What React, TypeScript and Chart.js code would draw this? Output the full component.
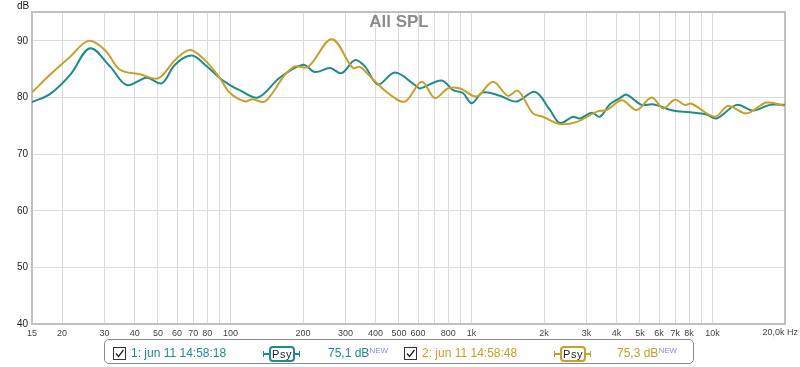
import React, { useEffect, useRef } from "react";
import { Chart, registerables } from "chart.js";

Chart.register(...registerables);

const freq1 = [15, 17.8, 21.6, 26.1, 31.6, 37.1, 44.9, 51.8, 58.8, 69, 78.3, 90.4, 99.5, 109, 130, 160, 200, 224, 259, 289, 328, 361, 409, 481, 583, 611, 752, 838, 921, 1002, 1115, 1312, 1539, 1833, 2116, 2328, 2636, 2819, 3161, 3411, 3754, 4131, 4403, 5082, 5661, 6853, 8061, 9458, 10403, 12597, 14760, 17310, 20000];
const spl1 = [79.2, 80.6, 84.0, 88.7, 85.5, 82.2, 83.5, 82.5, 85.8, 87.4, 85.8, 83.4, 82.2, 81.3, 80, 83.5, 85.8, 84.5, 85.2, 84.3, 86.6, 85.5, 82.3, 84.4, 82.2, 81.6, 83, 81.3, 80.8, 79, 80.9, 80.3, 79.3, 81, 77.8, 75.5, 76.6, 76.3, 77.3, 76.6, 78.8, 79.9, 80.5, 78.7, 78.8, 77.7, 77.4, 77, 76.3, 78.7, 77.7, 78.7, 78.7];

const freq2 = [15, 17.8, 21.6, 25.7, 30.1, 34.8, 42.1, 50.1, 58.8, 67.9, 78.3, 90.4, 99.5, 115, 123, 139, 168, 185, 210, 263, 322, 344, 386, 450, 529, 621, 705, 798, 896, 1050, 1227, 1416, 1559, 1799, 1979, 2328, 2739, 3315, 3648, 4209, 4843, 5590, 6247, 6984, 7684, 8193, 10234, 11590, 13857, 16770, 20000];
const spl2 = [80.9, 84, 87.2, 90, 88.4, 84.9, 84.1, 83.4, 86.6, 88.4, 86.6, 83.4, 80.8, 79.3, 79.7, 79.3, 84, 85.5, 85.4, 90.3, 85.2, 85.4, 83.4, 80.8, 79.3, 82.8, 79.9, 81.6, 81.6, 80.2, 82.8, 80.3, 81.2, 77.2, 76.6, 75.3, 75.7, 77.5, 77.8, 79.5, 77.8, 80, 78.1, 79.6, 78.7, 78.9, 76.6, 78.5, 77.2, 79.1, 78.5];

const xTickValues = [15, 20, 30, 40, 50, 60, 70, 80, 90, 100, 200, 300, 400, 500, 600, 700, 800, 900, 1000, 2000, 3000, 4000, 5000, 6000, 7000, 8000, 9000, 10000, 20000];
const xTickLabels = ["15", "20", "30", "40", "50", "60", "70", "80", "", "100", "200", "300", "400", "500", "600", "", "800", "", "1k", "2k", "3k", "4k", "5k", "6k", "7k", "8k", "", "10k", ""];
const lastXLabel = "20,0k Hz";
const yTickValues = [40, 50, 60, 70, 80, 90];

const TEAL = "#1e8c8c";
const GOLD = "#c8a028";
const FONT = "'Liberation Sans', Arial, sans-serif";

export default function App() {
  const ref = useRef<HTMLCanvasElement | null>(null);

  useEffect(() => {
    document.body.style.margin = "0";
    const canvas = ref.current;
    if (!canvas) return;

    const overlay = {
      id: "overlay",
      beforeDatasetsDraw(chart: any) {
        const { ctx, chartArea } = chart;
        ctx.save();
        ctx.strokeStyle = "#c0c0c0";
        ctx.lineWidth = 2;
        ctx.strokeRect(chartArea.left, chartArea.top, chartArea.right - chartArea.left, chartArea.bottom - chartArea.top);
        ctx.restore();
      },
      afterDraw(chart: any) {
        const { ctx, chartArea, scales } = chart;
        ctx.save();
        ctx.fillStyle = "#8c8c8c";
        ctx.font = `bold 17px ${FONT}`;
        ctx.textAlign = "center";
        ctx.textBaseline = "alphabetic";
        ctx.fillText("All SPL", 399, 27);
        ctx.fillStyle = "#222";
        ctx.font = `10px ${FONT}`;
        ctx.textAlign = "left";
        ctx.fillText("dB", 17, 9);
        ctx.fillStyle = "#444";
        ctx.font = `9px ${FONT}`;
        ctx.textAlign = "right";
        const px = scales.x.getPixelForValue(20000);
        ctx.textBaseline = "top";
        ctx.fillText(lastXLabel, px + 13, chartArea.bottom + 4);
        ctx.restore();
      },
    };

    const chart = new Chart(canvas, {
      type: "line",
      data: {
        datasets: [
          {
            label: "2",
            data: freq2.map((f, i) => ({ x: f, y: spl2[i] })),
            borderColor: GOLD,
            borderWidth: 2,
            pointRadius: 0,
            fill: false,
            tension: 0.35,
          },
          {
            label: "1",
            data: freq1.map((f, i) => ({ x: f, y: spl1[i] })),
            borderColor: TEAL,
            borderWidth: 2,
            pointRadius: 0,
            fill: false,
            tension: 0.35,
          },
        ],
      },
      options: {
        responsive: false,
        animation: false,
        layout: { padding: { top: 12, right: 15, left: 0, bottom: 0 } },
        plugins: { legend: { display: false }, tooltip: { enabled: false } },
        scales: {
          x: {
            type: "logarithmic",
            min: 15,
            max: 20000,
            afterBuildTicks: (s: any) => {
              s.ticks = xTickValues.map((v) => ({ value: v }));
            },
            afterFit: (s: any) => {
              s.height = 43;
            },
            ticks: {
              autoSkip: false,
              maxRotation: 0,
              padding: 4,
              color: "#444",
              font: { size: 9, family: FONT },
              callback: (_v: any, i: number) => xTickLabels[i],
            },
            grid: { color: "#dcdcdc", drawTicks: false, lineWidth: 1 },
            border: { display: false },
          },
          y: {
            type: "linear",
            min: 40,
            max: 95.1,
            afterBuildTicks: (s: any) => {
              s.ticks = yTickValues.map((v) => ({ value: v }));
            },
            afterFit: (s: any) => {
              s.width = 32;
            },
            ticks: {
              padding: 4,
              color: "#222",
              font: { size: 10, family: FONT },
              callback: (v: any) => String(v),
            },
            grid: { color: "#dcdcdc", drawTicks: false, lineWidth: 1 },
            border: { display: false },
          },
        },
      },
      plugins: [overlay],
    } as any);

    return () => chart.destroy();
  }, []);

  const text: React.CSSProperties = { position: "absolute", fontFamily: FONT, fontSize: 12, lineHeight: "14px", top: 346, whiteSpace: "nowrap" };

  const check = (left: number) => (
    <div style={{ position: "absolute", left, top: 347, width: 11, height: 11, border: "1px solid #333", background: "#fff" }}>
      <svg width="11" height="11" style={{ position: "absolute", left: 0, top: 0 }}>
        <polyline points="2,5.5 4.5,8.5 9.5,2" fill="none" stroke="#222" strokeWidth="1.3" />
      </svg>
    </div>
  );

  const psy = (left: number, color: string) => (
    <div style={{ position: "absolute", left, top: 346, width: 37, height: 16 }}>
      <div style={{ position: "absolute", left: 0, top: 7, width: 37, height: 2, background: color }} />
      <div style={{ position: "absolute", left: 0, top: 5, width: 1, height: 6, background: color }} />
      <div style={{ position: "absolute", left: 36, top: 5, width: 1, height: 6, background: color }} />
      <div
        style={{
          position: "absolute",
          left: 6,
          top: 0,
          width: 22,
          height: 12,
          border: `2px solid ${color}`,
          borderRadius: 4,
          background: "#fff",
          fontFamily: FONT,
          fontSize: 11,
          color: "#222",
          textAlign: "center",
          lineHeight: "12px",
          letterSpacing: 0.5,
        }}
      >
        Psy
      </div>
    </div>
  );

  const sup: React.CSSProperties = { fontSize: 8, color: "#8a8af0", verticalAlign: "top", position: "relative", top: -2 };

  return (
    <div style={{ position: "relative", width: 800, height: 367, background: "#fff" }}>
      <canvas ref={ref} width={800} height={367} style={{ display: "block" }} />
      <div style={{ position: "absolute", left: 104, top: 339, width: 590, height: 25, border: "1px solid #8a8a8a", borderRadius: 5, boxSizing: "border-box" }} />
      {check(113)}
      <span style={{ ...text, left: 131, color: TEAL }}>1: jun 11 14:58:18</span>
      {psy(263, TEAL)}
      <span style={{ ...text, left: 328, color: TEAL }}>
        75,1 dB<span style={sup}>NEW</span>
      </span>
      {check(404)}
      <span style={{ ...text, left: 422, color: GOLD }}>2: jun 11 14:58:48</span>
      {psy(554, GOLD)}
      <span style={{ ...text, left: 617, color: GOLD }}>
        75,3 dB<span style={sup}>NEW</span>
      </span>
    </div>
  );
}
